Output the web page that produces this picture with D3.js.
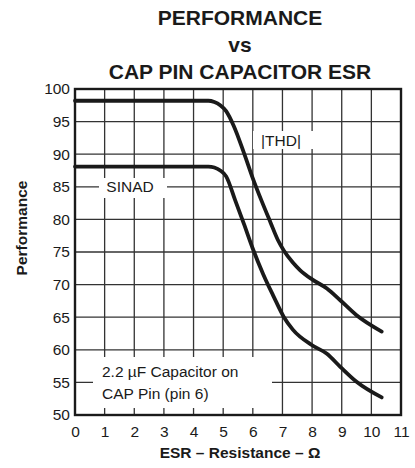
<!DOCTYPE html>
<html><head><meta charset="utf-8">
<script src="https://cdn.jsdelivr.net/npm/d3@7/dist/d3.min.js"></script>
<style>
body{margin:0;background:#fff;}
svg{display:block;font-family:"Liberation Sans",Arial,Helvetica,sans-serif;}
</style></head>
<body><svg id="chart" width="415" height="468"></svg>
<script>
const titleLines = ["PERFORMANCE", "vs", "CAP PIN CAPACITOR ESR"];
const xTicks = [0,1,2,3,4,5,6,7,8,9,10,11];
const yTicks = [50,55,60,65,70,75,80,85,90,95,100];
const thdEsr = [0,1,2,3,4,4.5,4.7,4.9,5.1,5.35,5.7,6.0,6.3,6.6,6.85,7.05,7.35,7.6,8.0,8.5,8.95,9.5,10.35];
const thdVal = [98.2,98.2,98.2,98.2,98.2,98.2,98.0,97.5,96.6,94.4,90.2,86.3,82.8,79.5,76.8,75.2,73.4,72.2,70.8,69.4,67.6,65.3,62.8];
const sinadEsr = [0,1,2,3,4,4.5,4.7,4.9,5.1,5.4,5.7,6.0,6.35,6.7,7.05,7.35,8.0,8.5,8.95,9.5,10.35];
const sinadVal = [88.1,88.1,88.1,88.1,88.1,88.1,87.95,87.5,86.6,83.0,79.3,75.5,71.6,68.2,65.0,63.1,60.7,59.4,57.4,55.1,52.7];
const xTitle = "ESR \u2013 Resistance \u2013 \u03A9";
const yTitle = "Performance";
const noteLines = ["2.2 \u00B5F Capacitor on", "CAP Pin (pin 6)"];

const svg = d3.select("#chart");
const L = 75, R = 401, T = 89, B = 415;
const x = d3.scaleLinear().domain([0,11]).range([L,R]);
const y = d3.scaleLinear().domain([50,100]).range([B,T]);
const ink = "#1a1a1a";

// title
svg.append("g").selectAll("text").data(titleLines).join("text")
  .attr("x", 240).attr("y", (d,i)=>25+i*27)
  .attr("text-anchor","middle").attr("font-weight","bold").attr("font-size",21)
  .attr("fill",ink).text(d=>d);

// grid lines
const gridG = svg.append("g");
gridG.selectAll("line.gv").data(xTicks.slice(1,-1)).join("line").attr("class","gv")
  .attr("x1",d=>x(d)).attr("x2",d=>x(d)).attr("y1",T).attr("y2",B)
  .style("stroke","#333").style("stroke-width","1.3px");
gridG.selectAll("line.gh").data(yTicks.slice(1,-1)).join("line").attr("class","gh")
  .attr("x1",L).attr("x2",R).attr("y1",d=>y(d)).attr("y2",d=>y(d))
  .style("stroke","#333").style("stroke-width","1.3px");

// white label boxes
function box(x0,y0,x1,y1){ svg.append("rect").attr("x",x0).attr("y",y0).attr("width",x1-x0).attr("height",y1-y0).attr("fill","#fff"); }
box(99,178,167,198);
box(253,131,313,149);
box(93,357,272,408);

// frame
svg.append("rect").attr("x",L).attr("y",T).attr("width",R-L).attr("height",B-T)
  .attr("fill","none").attr("stroke",ink).attr("stroke-width",2.4);

// axes tick labels
const gx = svg.append("g").attr("transform",`translate(0,${B})`)
  .call(d3.axisBottom(x).tickValues(xTicks).tickSize(0).tickPadding(11));
gx.select(".domain").remove();
gx.selectAll("text").attr("font-size",15.5).attr("font-family","inherit").attr("fill",ink);
const gy = svg.append("g").attr("transform",`translate(${L},0)`)
  .call(d3.axisLeft(y).tickValues(yTicks).tickSize(0).tickPadding(5));
gy.select(".domain").remove();
gy.selectAll("text").attr("font-size",15.5).attr("font-family","inherit").attr("fill",ink);

// axis titles
svg.append("text").attr("x",240).attr("y",458).attr("text-anchor","middle")
  .attr("font-weight","bold").attr("font-size",15.5).attr("fill",ink).text(xTitle);
svg.append("text").attr("transform","translate(27,228) rotate(-90)").attr("text-anchor","middle")
  .attr("font-weight","bold").attr("font-size",15.5).attr("fill",ink).text(yTitle);

// curves
const line = d3.line().x(d=>x(d[0])).y(d=>y(d[1])).curve(d3.curveMonotoneX);
svg.append("path").datum(d3.zip(thdEsr,thdVal)).attr("d",line)
  .attr("fill","none").attr("stroke",ink).attr("stroke-width",3.8).attr("stroke-linecap","round");
svg.append("path").datum(d3.zip(sinadEsr,sinadVal)).attr("d",line)
  .attr("fill","none").attr("stroke",ink).attr("stroke-width",3.8).attr("stroke-linecap","round");

// labels
svg.append("text").attr("x",130).attr("y",192).attr("text-anchor","middle")
  .attr("font-size",15.5).attr("fill",ink).text("SINAD");
svg.append("text").attr("x",281).attr("y",146).attr("text-anchor","middle")
  .attr("font-size",15.5).attr("fill",ink).text("|THD|");
svg.append("g").selectAll("text").data(noteLines).join("text")
  .attr("x",102).attr("y",(d,i)=>377+i*22).attr("font-size",15.5).attr("fill",ink).text(d=>d);
</script></body></html>
